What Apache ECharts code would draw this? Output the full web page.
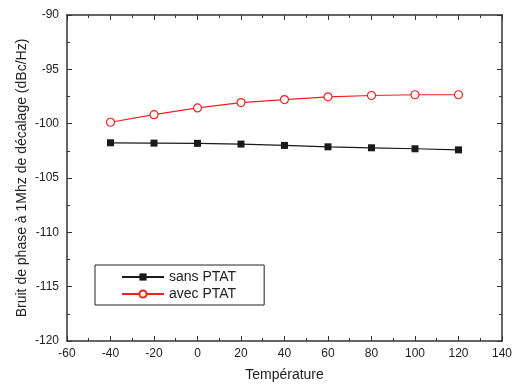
<!DOCTYPE html>
<html><head><meta charset="utf-8">
<script src="https://cdn.jsdelivr.net/npm/echarts@6/dist/echarts.min.js"></script>
<style>html,body{margin:0;padding:0;background:#fff}#c{width:515px;height:387px}</style>
</head><body><div id="c"></div>
<script>
const temps = [-40, -20, 0, 20, 40, 60, 80, 100, 120];
const sansPTAT = [-101.76, -101.79, -101.81, -101.88, -102.0, -102.13, -102.22, -102.31, -102.41];
const avecPTAT = [-99.87, -99.17, -98.55, -98.06, -97.78, -97.53, -97.41, -97.34, -97.34];
const font = 'Liberation Sans, Arial, sans-serif';
const axisLine = {show: true, onZero: false, lineStyle: {color: '#333', width: 1.5}};
const tick = {inside: true, length: 5, lineStyle: {color: '#333'}};
const minor = {show: true, splitNumber: 2, length: 3, lineStyle: {color: '#333'}};
const chart = echarts.init(document.getElementById('c'), null, {renderer: 'canvas'});
chart.setOption({
  animation: false,
  grid: {left: 67, right: 9, top: 15, bottom: 45},
  legend: {
    left: 95, top: 265, orient: 'vertical', itemGap: 3,
    borderColor: '#222', borderWidth: 1, padding: [5, 28, 4, 26],
    itemWidth: 42, itemHeight: 9,
    textStyle: {fontFamily: font, fontSize: 14, color: '#222'},
    data: ['sans PTAT', 'avec PTAT']
  },
  xAxis: [{
    type: 'value', min: -60, max: 140, interval: 20,
    name: 'Température', nameLocation: 'middle', nameGap: 27, nameMoveOverlap: false,
    nameTextStyle: {fontFamily: font, fontSize: 14, color: '#222'},
    axisLine, axisTick: tick, minorTick: minor,
    axisLabel: {fontFamily: font, fontSize: 12, color: '#222', margin: 7},
    splitLine: {show: false}
  }, {
    type: 'value', position: 'top', min: -60, max: 140, interval: 20,
    axisLine, axisTick: tick, minorTick: minor,
    axisLabel: {show: false}, splitLine: {show: false}
  }],
  yAxis: [{
    type: 'value', min: -120, max: -90, interval: 5,
    name: 'Bruit de phase à 1Mhz de décalage (dBc/Hz)', nameLocation: 'middle', nameGap: 38, nameMoveOverlap: false,
    nameTextStyle: {fontFamily: font, fontSize: 14, color: '#222'},
    axisLine, axisTick: tick, minorTick: minor,
    axisLabel: {fontFamily: font, fontSize: 12, color: '#222', margin: 8},
    splitLine: {show: false}
  }, {
    type: 'value', position: 'right', min: -120, max: -90, interval: 5,
    axisLine, axisTick: tick, minorTick: minor,
    axisLabel: {show: false}, splitLine: {show: false}
  }],
  series: [{
    name: 'sans PTAT', type: 'line',
    data: temps.map((t, i) => [t, sansPTAT[i]]),
    symbol: 'rect', symbolSize: 7,
    itemStyle: {color: '#1a1a1a'}, lineStyle: {color: '#1a1a1a', width: 1.2}
  }, {
    name: 'avec PTAT', type: 'line',
    data: temps.map((t, i) => [t, avecPTAT[i]]),
    symbol: 'circle', symbolSize: 8, showAllSymbol: true,
    itemStyle: {color: '#fff', borderColor: '#ee2222', borderWidth: 1.2},
    lineStyle: {color: '#ee2222', width: 1.2}
  }]
});
</script></body></html>
